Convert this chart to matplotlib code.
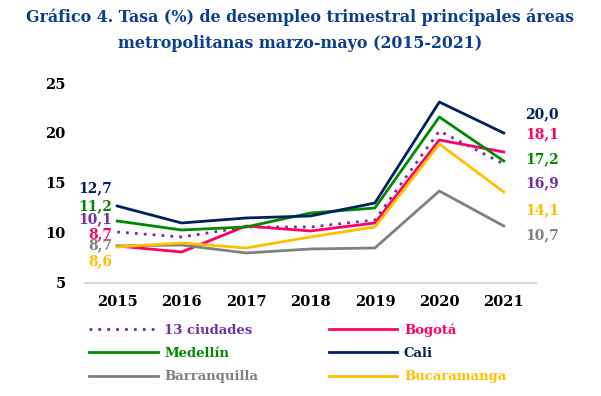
import matplotlib.pyplot as plt

years = ["2015", "2016", "2017", "2018", "2019", "2020", "2021"]
ciudades13 = [10.1, 9.6, 10.6, 10.6, 11.3, 20.2, 16.9]
bogota = [8.7, 8.1, 10.7, 10.2, 11.0, 19.3, 18.1]
medellin = [11.2, 10.3, 10.6, 12.0, 12.5, 21.6, 17.2]
cali = [12.7, 11.0, 11.5, 11.7, 13.0, 23.1, 20.0]
barranquilla = [8.7, 8.8, 8.0, 8.4, 8.5, 14.2, 10.7]
bucaramanga = [8.6, 9.0, 8.5, 9.6, 10.6, 18.9, 14.1]

names = ["13 ciudades", "Bogotá", "Medellín", "Cali", "Barranquilla", "Bucaramanga"]
series = [ciudades13, bogota, medellin, cali, barranquilla, bucaramanga]
colors = ["#7030A0", "#FF0066", "#008A00", "#002060", "#808080", "#FFC000"]

# where the value labels sit (y in data units), left and right
left_pos = [11.4, 9.85, 12.7, 14.5, 8.75, 7.2]
right_pos = [15.0, 19.9, 17.4, 21.9, 9.8, 12.3]

plt.rcParams['font.family'] = ['DejaVu Serif']
plt.rcParams['font.weight'] = 'bold'

fig = plt.figure(figsize=(6.01, 3.96), dpi=100)
ax = fig.add_axes([0.1414, 0.2854, 0.7504, 0.505])

x = range(len(years))
handles = []
for name, vals, col in zip(names, series, colors):
    if name == "13 ciudades":
        h, = ax.plot(x, vals, color=col, lw=2, ls=(0, (1, 2.2)), label=name)
    else:
        h, = ax.plot(x, vals, color=col, lw=2, label=name)
    handles.append(h)

for vals, col, yl, yr in zip(series, colors, left_pos, right_pos):
    ax.text(-0.08, yl, "{0:.1f}".format(vals[0]).replace(".", ","), color=col,
            ha="right", va="center", fontsize=10, fontweight="bold")
    ax.text(6.33, yr, "{0:.1f}".format(vals[-1]).replace(".", ","), color=col,
            ha="left", va="center", fontsize=10, fontweight="bold")

ax.set_xlim(-0.5, 6.5)
ax.set_ylim(5, 25)
ax.set_yticks([5, 10, 15, 20, 25])
ax.set_xticks(list(x))
ax.set_xticklabels(years)
for s in ["top", "right", "left"]:
    ax.spines[s].set_visible(False)
ax.spines["bottom"].set_color("#D9D9D9")
ax.spines["bottom"].set_linewidth(1.5)
ax.tick_params(length=0, labelsize=10.5)
ax.tick_params(axis="y", pad=14)
ax.tick_params(axis="x", pad=9)

fig.text(0.5, 1 - 17 / 396, "Gráfico 4. Tasa (%) de desempleo trimestral principales áreas",
         ha="center", va="center", color="#0B3D91", fontsize=11.4, fontweight="bold")
fig.text(0.5, 1 - 43 / 396, "metropolitanas marzo-mayo (2015-2021)",
         ha="center", va="center", color="#0B3D91", fontsize=11.4, fontweight="bold")

order = [0, 2, 4, 1, 3, 5]
leg = fig.legend([handles[i] for i in order], [names[i] for i in order], ncol=2,
                 loc="upper left", bbox_to_anchor=(0.148, 0.184), frameon=False,
                 handlelength=5.2, handletextpad=0.5, columnspacing=5.35,
                 labelspacing=0.78, borderaxespad=0, borderpad=0,
                 prop={"size": 9.5, "weight": "bold"}, labelcolor="linecolor")

fig.savefig("out.png", dpi=100)
